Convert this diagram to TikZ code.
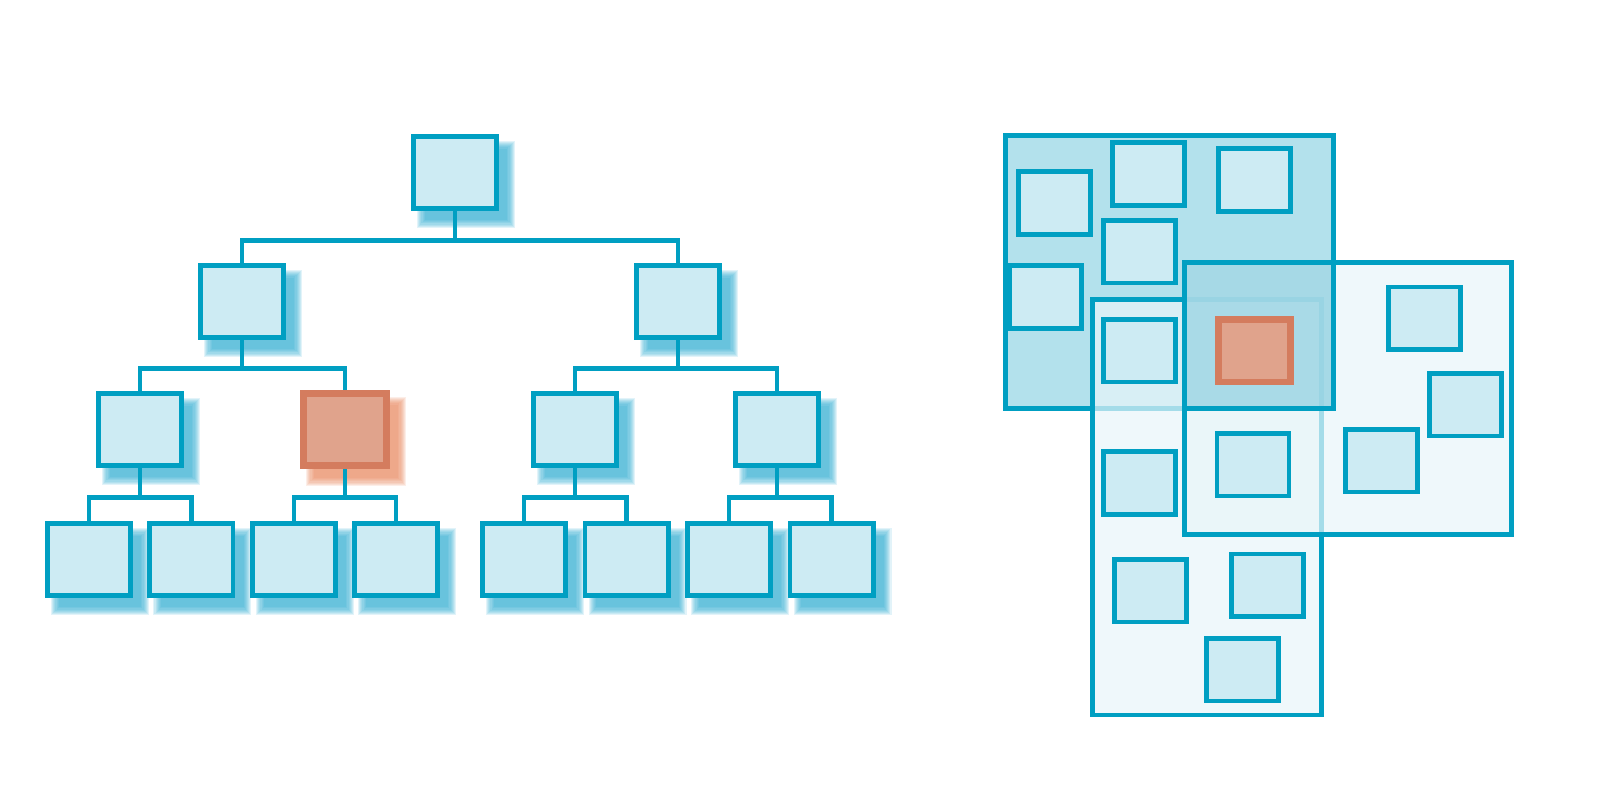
\documentclass[tikz,border=0pt]{standalone}
\usepackage{tikz}
\usetikzlibrary{backgrounds}
\definecolor{rim}{HTML}{009FC2}
\definecolor{cell}{HTML}{CDEBF3}
\definecolor{hot}{HTML}{D47C5E}
\definecolor{hotfill}{HTML}{E0A38C}
\definecolor{glow}{RGB}{30,165,205}
\definecolor{hotglow}{RGB}{230,125,80}
\definecolor{zonedark}{HTML}{B3E1EC}
\definecolor{zonefill}{RGB}{232,245,249}
\definecolor{overlap}{RGB}{150,210,226}

% soft offset shadow behind a box
\newcommand{\boxshadow}[2]{%
  \foreach \k in {0,...,7}
    \fill[#2, fill opacity=0.13] ([shift={(6+1.1*\k,7+1.1*\k)}]#1.north west)
      rectangle ([shift={(16-1.1*\k,17-1.1*\k)}]#1.south east);}

\begin{document}
\begin{tikzpicture}[x=1pt, y=-1pt,
  box/.style={draw=rim, fill=cell, line width=4.7pt, minimum width=83.3pt, minimum height=72.3pt, inner sep=0pt},
  tile/.style={box, minimum width=72pt, minimum height=62.6pt},
  hit/.style={draw=hot, fill=hotfill, line width=6.7pt},
  link/.style={draw=rim, line width=4.7pt},
  zone/.style={draw=rim, line width=4.7pt, fill=zonefill, fill opacity=0.71}]
  \useasboundingbox (0,0) rectangle (1600,800);

  % tree
  \node[box] (root) at (455,172.3) {};
  \node[box] (l) at (242,301.3) {};
  \node[box] (r) at (678,301.3) {};
  \node[box] (ll) at (140,429.3) {};
  \node[box, hit] (lr) at (345,429.3) {};
  \node[box] (rl) at (575,429.3) {};
  \node[box] (rr) at (777,429.3) {};
  \node[box] (lll) at (89,559.5) {};
  \node[box] (llr) at (191.3,559.5) {};
  \node[box] (lrl) at (294,559.5) {};
  \node[box] (lrr) at (396,559.5) {};
  \node[box] (rll) at (524,559.5) {};
  \node[box] (rlr) at (626.5,559.5) {};
  \node[box] (rrl) at (729,559.5) {};
  \node[box] (rrr) at (831.5,559.5) {};

  \begin{pgfonlayer}{background}
    \foreach \n in {root,l,r,ll,rl,rr,lll,llr,lrl,lrr,rll,rlr,rrl,rrr}
      {\boxshadow{\n}{glow}}
    \boxshadow{lr}{hotglow}
  \end{pgfonlayer}

  \draw[link] (root.south) -- (root.south |- 0,240.3);
  \draw[link] (l.north) |- (root.south |- 0,240.3) -| (r.north);
  \draw[link] (l.south) -- (l.south |- 0,368.8);
  \draw[link] (ll.north) |- (l.south |- 0,368.8) -| (lr.north);
  \draw[link] (r.south) -- (r.south |- 0,368.8);
  \draw[link] (rl.north) |- (r.south |- 0,368.8) -| (rr.north);
  \draw[link] (ll.south) -- (ll.south |- 0,497.5);
  \draw[link] (lll.north) |- (ll.south |- 0,497.5) -| (llr.north);
  \draw[link] (lr.south) -- (lr.south |- 0,497.5);
  \draw[link] (lrl.north) |- (lr.south |- 0,497.5) -| (lrr.north);
  \draw[link] (rl.south) -- (rl.south |- 0,497.5);
  \draw[link] (rll.north) |- (rl.south |- 0,497.5) -| (rlr.north);
  \draw[link] (rr.south) -- (rr.south |- 0,497.5);
  \draw[link] (rrl.north) |- (rr.south |- 0,497.5) -| (rrr.north);

  % overlapping regions
  \draw[zone, fill=zonedark, fill opacity=1] (1005.3,135.3) rectangle (1333.3,408.3);
  \draw[zone] (1092.3,299.7) rectangle (1321.7,715);
  \draw[zone] (1184.7,262.3) rectangle (1511.7,534.3);
  \draw[zone, fill=overlap, fill opacity=0.75] (1184.7,262.3) rectangle (1333.3,408.3);

  \node[tile] (q1) at (1054.5,203) {};
  \node[tile] (q2) at (1148.5,174) {};
  \node[tile] (q3) at (1254.5,180) {};
  \node[tile] (q4) at (1139.3,251.8) {};
  \node[tile] (q5) at (1045.3,297) {};
  \node[tile] (q6) at (1139.3,350.8) {};
  \node[tile, hit] (qhit) at (1254.3,350.8) {};
  \node[tile] (q7) at (1424.3,318.3) {};
  \node[tile] (q8) at (1465.8,404.8) {};
  \node[tile] (q9) at (1381.3,460.8) {};
  \node[tile] (q10) at (1253,464.8) {};
  \node[tile] (q11) at (1139.3,483) {};
  \node[tile] (q12) at (1150.3,590.8) {};
  \node[tile] (q13) at (1267.3,585.3) {};
  \node[tile] (q14) at (1242.3,669.8) {};
\end{tikzpicture}
\end{document}
